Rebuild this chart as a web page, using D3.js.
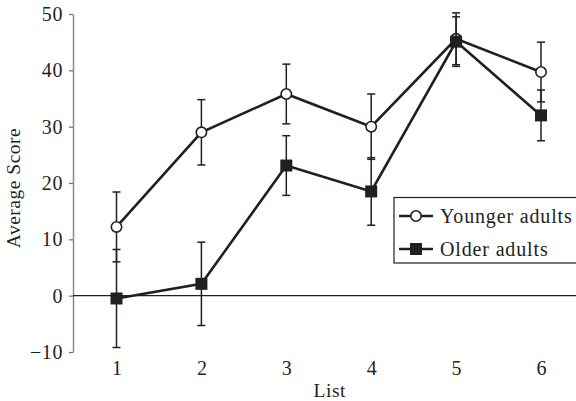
<!DOCTYPE html>
<html>
<head>
<meta charset="utf-8">
<script src="https://cdn.jsdelivr.net/npm/d3@7"></script>
<style>
  html, body { margin: 0; padding: 0; background: #fff; }
  svg { display: block; }
  text { font-family: "Liberation Serif", "Times New Roman", serif; fill: #231f20; }
</style>
</head>
<body>
<svg id="chart" width="576" height="401"></svg>
<script>
// Recall data: list number, mean score and error (± half-bar) per group
const lists = [1, 2, 3, 4, 5, 6];
const youngerMeans = [12.2, 29.0, 35.8, 30.0, 45.6, 39.7];
const youngerErrors = [6.2, 5.8, 5.3, 5.8, 4.6, 5.3];
const olderMeans = [-0.5, 2.1, 23.1, 18.5, 45.1, 32.0];
const olderErrors = [8.7, 7.4, 5.3, 6.0, 4.4, 4.5];
const yTicks = [-10, 0, 10, 20, 30, 40, 50];
const seriesNames = ["Younger adults", "Older adults"];

const svg = d3.select("#chart");
const ink = "#231f20";

const x = d3.scaleLinear().domain([1, 6]).range([116.5, 541]);
const y = d3.scaleLinear().domain([-10, 50]).range([352, 14]);
const axisX = 73;

// Y axis (grey spine with short ticks)
const yAxis = d3.axisLeft(y)
  .tickValues(yTicks)
  .tickSize(4)
  .tickSizeOuter(0)
  .tickPadding(6)
  .tickFormat(d => d < 0 ? "\u2212" + Math.abs(d) : String(d));
const gy = svg.append("g").attr("transform", `translate(${axisX},0)`).call(yAxis);
gy.select(".domain").attr("stroke", "#8a8a8a").attr("stroke-width", 1.5);
gy.selectAll(".tick line").attr("stroke", "#6d6d6d").attr("stroke-width", 1.2);
gy.selectAll(".tick text")
  .style("font-family", '"Liberation Serif", serif')
  .style("font-size", "20px")
  .style("letter-spacing", "0.6px")
  .attr("fill", ink);

// X axis labels only
const xAxis = d3.axisBottom(x).tickValues(lists).tickSize(0).tickPadding(0).tickFormat(d3.format("d"));
const gx = svg.append("g").attr("transform", `translate(0,361)`).call(xAxis);
gx.select(".domain").remove();
gx.selectAll(".tick text")
  .style("font-family", '"Liberation Serif", serif')
  .style("font-size", "20px")
  .attr("dy", "0.71em")
  .attr("fill", ink);

// Axis titles
svg.append("text")
  .attr("x", x(3.5) + 1)
  .attr("y", 397)
  .attr("text-anchor", "middle")
  .style("font-size", "19.5px")
  .style("letter-spacing", "0.6px")
  .text("List");

svg.append("text")
  .attr("transform", `translate(20,${(y(50) + y(-10)) / 2 + 5}) rotate(-90)`)
  .attr("text-anchor", "middle")
  .style("font-size", "19.5px")
  .style("letter-spacing", "0.5px")
  .text("Average Score");

// Zero reference line
svg.append("line")
  .attr("x1", axisX).attr("x2", 576)
  .attr("y1", y(0)).attr("y2", y(0))
  .attr("stroke", ink).attr("stroke-width", 1.2);

const series = [
  { name: seriesNames[0], means: youngerMeans, errs: youngerErrors, marker: "circle" },
  { name: seriesNames[1], means: olderMeans, errs: olderErrors, marker: "square" }
];

const line = d3.line().x(d => x(d.list)).y(d => y(d.mean));
const capW = 4;

series.forEach(s => {
  const pts = lists.map((l, i) => ({ list: l, mean: s.means[i], err: s.errs[i] }));
  const g = svg.append("g");

  // Error bars
  const eb = g.selectAll("g.err").data(pts).join("g").attr("class", "err");
  eb.append("line")
    .attr("x1", d => x(d.list)).attr("x2", d => x(d.list))
    .attr("y1", d => y(d.mean - d.err)).attr("y2", d => y(d.mean + d.err))
    .attr("stroke", ink).attr("stroke-width", 1.5);
  [1, -1].forEach(sign => {
    eb.append("line")
      .attr("x1", d => x(d.list) - capW).attr("x2", d => x(d.list) + capW)
      .attr("y1", d => y(d.mean + sign * d.err)).attr("y2", d => y(d.mean + sign * d.err))
      .attr("stroke", ink).attr("stroke-width", 1.5);
  });

  // Connecting line
  g.append("path").datum(pts)
    .attr("d", line)
    .attr("fill", "none")
    .attr("stroke", ink)
    .attr("stroke-width", 2.6)
    .attr("stroke-linejoin", "miter");

  // Markers
  if (s.marker === "circle") {
    g.selectAll("circle").data(pts).join("circle")
      .attr("cx", d => x(d.list)).attr("cy", d => y(d.mean)).attr("r", 5.2)
      .attr("fill", "#fff").attr("stroke", ink).attr("stroke-width", 1.6);
  } else {
    const sz = 12;
    g.selectAll("rect").data(pts).join("rect")
      .attr("x", d => x(d.list) - sz / 2).attr("y", d => y(d.mean) - sz / 2)
      .attr("width", sz).attr("height", sz)
      .attr("fill", ink);
  }
});

// Legend
const lg = svg.append("g");
lg.append("rect")
  .attr("x", 394).attr("y", 197.5).attr("width", 190).attr("height", 65.5)
  .attr("fill", "#fff").attr("stroke", ink).attr("stroke-width", 1.2);
series.forEach((s, i) => {
  const cy = 216 + i * 33;
  lg.append("line").attr("x1", 399).attr("x2", 433).attr("y1", cy).attr("y2", cy)
    .attr("stroke", ink).attr("stroke-width", 2.4);
  if (s.marker === "circle") {
    lg.append("circle").attr("cx", 416).attr("cy", cy).attr("r", 5.2)
      .attr("fill", "#fff").attr("stroke", ink).attr("stroke-width", 1.6);
  } else {
    lg.append("rect").attr("x", 410).attr("y", cy - 6).attr("width", 12).attr("height", 12).attr("fill", ink);
  }
  lg.append("text")
    .attr("x", 440).attr("y", cy + 6.5)
    .style("font-size", "20px")
    .style("letter-spacing", "0.85px")
    .text(s.name);
});
</script>
</body>
</html>
